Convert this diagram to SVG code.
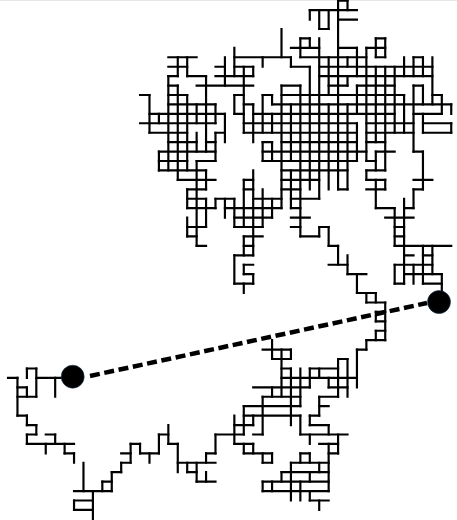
<svg xmlns="http://www.w3.org/2000/svg" width="457" height="520" viewBox="0 0 457 520">
<style>
.walk{fill:none;stroke:#000;stroke-width:.23;stroke-linecap:square}
.dash{fill:none;stroke:#000;stroke-width:4.5;stroke-dasharray:10 4.6}
.dot{fill:#000;stroke:#1c3a55;stroke-width:.6}
</style>
<rect width="457" height="1" fill="#e6e6e6"/>
<g id="walk" transform="translate(-1.4 .7) scale(9.43)">
<path id="horizontal" class="walk" d="M36 0H37M33 1H38M36 2H38M34 3H35M32 4H33M40 4H41M31 5H34M36 5H38M39 5H41M18 6H21M25 6H31M32 6H39M40 6H41M44 6H45M18 7H20M23 7H24M25 7H27M31 7H33M34 7H46M18 8H19M20 8H22M23 8H27M34 8H46M18 9H19M21 9H27M30 9H32M35 9H37M38 9H42M44 9H45M15 10H16M18 10H20M25 10H26M28 10H29M30 10H43M46 10H47M18 11H23M26 11H27M29 11H48M16 12H24M25 12H26M27 12H42M44 12H47M15 13H23M26 13H38M39 13H44M45 13H48M16 14H20M23 14H24M26 14H38M39 14H44M45 14H48M18 15H21M22 15H23M28 15H29M30 15H38M39 15H41M17 16H23M28 16H39M40 16H42M44 16H45M17 17H20M21 17H23M28 17H38M39 17H40M17 18H22M30 18H37M39 18H41M19 19H23M26 19H27M30 19H34M39 19H41M44 19H46M20 20H22M26 20H27M30 20H32M36 20H37M39 20H41M44 20H45M20 21H22M23 21H25M27 21H30M31 21H34M20 22H23M24 22H30M31 22H32M40 22H42M43 22H44M25 23H29M31 23H33M41 23H44M20 24H22M25 24H28M31 24H32M34 24H35M42 24H43M20 25H21M26 25H28M32 25H34M42 25H43M21 26H22M26 26H27M35 26H36M42 26H48M25 27H27M43 27H44M45 27H46M26 28H27M35 28H37M42 28H46M26 29H27M37 29H39M43 29H47M25 30H27M42 30H43M45 30H47M38 31H40M39 32H41M40 33H41M40 34H41M40 35H41M39 36H41M28 37H31M38 37H39M29 38H31M36 38H37M3 39H4M30 39H31M33 39H36M1 40H2M4 40H7M30 40H38M2 41H3M27 41H33M35 41H37M2 42H4M28 42H32M34 42H36M26 43H32M34 43H35M2 44H3M26 44H32M33 44H34M3 45H4M25 45H27M33 45H35M3 46H4M5 46H6M17 46H18M23 46H26M27 46H28M32 46H37M3 47H8M14 47H15M18 47H19M25 47H27M34 47H36M7 48H8M13 48H14M15 48H17M22 48H23M26 48H29M32 48H33M35 48H36M13 49H14M19 49H23M28 49H29M31 49H35M12 50H13M20 50H21M30 50H35M11 51H12M21 51H23M28 51H35M8 52H12M28 52H35M8 53H10M33 53H35M8 54H10"/>
<path id="vertical" class="walk" d="M2 40V44M3 39V40M3 41V42M3 44V45M3 46V47M4 39V42M4 45V46M5 47V48M6 40V42M6 46V47M7 47V48M8 48V49M8 53V54M9 49V52M10 52V55M11 51V52M12 50V52M13 49V50M14 47V49M15 47V48M16 10V14M16 48V49M17 12V13M17 16V18M17 46V48M18 8V18M18 45V47M19 6V8M19 9V19M19 47V50M20 6V8M20 10V18M20 20V22M20 23V25M20 49V50M21 11V13M21 14V16M21 17V26M21 49V51M22 8V16M22 18V20M22 21V24M22 48V49M22 50V51M23 11V13M23 14V17M23 21V22M23 46V48M24 6V9M24 12V15M24 21V23M25 5V8M25 10V12M25 21V24M25 27V30M25 44V47M26 7V14M26 19V24M26 25V27M26 28V29M26 30V31M26 43V46M26 47V48M27 7V8M27 11V15M27 18V27M27 29V30M27 44V45M27 47V48M28 6V7M28 10V14M28 15V17M28 20V24M28 42V46M28 48V49M28 51V52M29 10V11M29 12V14M29 15V17M29 21V23M29 36V38M29 41V42M29 48V49M29 51V52M30 3V6M30 9V22M30 37V42M30 50V51M31 6V7M31 11V17M31 18V22M31 37V38M31 39V45M31 49V53M32 4V6M32 9V25M32 39V43M32 44V46M32 48V49M32 51V53M33 1V2M33 4V5M33 7V20M33 39V41M33 44V45M33 46V47M33 48V49M33 50V51M33 52V53M34 1V3M34 4V21M34 24V25M34 39V40M34 42V44M34 49V50M34 53V54M35 1V3M35 6V10M35 11V20M35 24V26M35 40V41M35 45V46M35 47V52M36 0V20M36 26V28M36 38V42M36 46V48M37 0V1M37 6V7M37 8V9M37 11V20M37 27V29M37 38V42M38 5V8M38 9V12M38 13V17M38 29V31M38 37V41M39 5V17M39 18V19M39 31V32M39 36V37M40 4V6M40 7V15M40 16V18M40 19V22M40 31V32M40 33V34M40 35V36M41 4V6M41 7V18M41 19V20M41 32V36M42 7V14M42 22V26M42 28V30M43 6V8M43 10V14M43 21V30M44 6V8M44 9V16M44 20V22M44 28V30M45 6V8M45 9V11M45 12V14M45 16V20M45 26V30M46 6V11M46 26V29M47 10V12M47 29V32M48 11V12M48 13V14"/>
</g>
<g id="connector"><line class="dash" x1="90" y1="376" x2="427" y2="303"/></g>
<g id="start"><circle class="dot" cx="72.7" cy="376.7" r="11.5"/></g>
<g id="end"><circle class="dot" cx="439" cy="302" r="11.5"/></g>
</svg>
